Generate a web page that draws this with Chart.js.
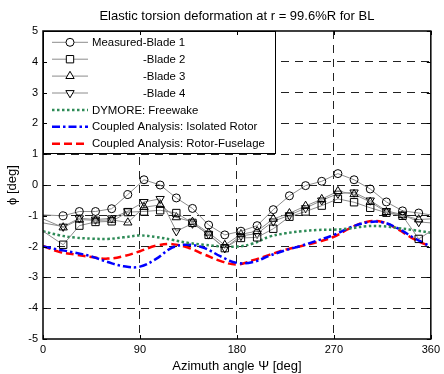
<!DOCTYPE html>
<html>
<head>
<meta charset="utf-8">
<script src="https://cdn.jsdelivr.net/npm/chart.js@4.4.1/dist/chart.umd.min.js"></script>
<style>
  html, body { margin: 0; padding: 0; background: #fff; }
  canvas { display: block; }
</style>
</head>
<body>
<canvas id="torsion" width="444" height="374"></canvas>
<script>
// measured azimuths (first/last entries are where the lines meet the plot edges)
const measuredAzimuth = [0, 18.75, 33.75, 48.75, 63.75, 78.75, 93.75, 108.75, 123.75, 138.75, 153.75, 168.75,
  183.75, 198.75, 213.75, 228.75, 243.75, 258.75, 273.75, 288.75, 303.75, 318.75, 333.75, 348.75, 360];
const blade1 = [-0.97, -1.0, -0.86, -0.86, -0.77, -0.31, 0.17, 0.0, -0.42, -0.76, -1.3, -1.62,
  -1.5, -1.32, -0.8, -0.35, -0.02, 0.12, 0.37, 0.17, -0.13, -0.55, -0.84, -0.91, -0.97];
const blade2 = [-1.5, -1.94, -1.32, -1.2, -1.18, -0.88, -0.86, -0.82, -0.91, -1.23, -1.62, -2.05,
  -1.72, -1.7, -1.42, -1.03, -0.86, -0.67, -0.45, -0.56, -0.74, -0.9, -1.0, -1.75, -1.5];
const blade3 = [-1.1, -1.38, -1.12, -1.15, -1.13, -1.22, -0.72, -0.65, -1.05, -1.2, -1.55, -1.95,
  -1.6, -1.5, -1.1, -0.92, -0.68, -0.46, -0.2, -0.3, -0.55, -0.88, -0.98, -1.12, -1.1];
const blade4 = [-1.23, -1.35, -1.08, -1.12, -1.08, -0.85, -0.55, -0.45, -1.5, -1.25, -1.6, -2.05,
  -1.65, -1.58, -1.18, -0.98, -0.75, -0.5, -0.28, -0.24, -0.5, -0.84, -0.96, -1.2, -1.23];

// analysis curves
const modelAzimuth = [0, 15, 30, 45, 60, 75, 90, 105, 120, 135, 150, 165, 180,
  195, 210, 225, 240, 255, 270, 285, 300, 315, 330, 345, 360];
const dymoreFreewake = [-1.5, -1.63, -1.71, -1.74, -1.75, -1.7, -1.64, -1.69, -1.78, -1.88, -1.94, -1.99, -2.0,
  -1.9, -1.68, -1.57, -1.5, -1.46, -1.45, -1.41, -1.34, -1.34, -1.4, -1.47, -1.55];
const isolatedRotor = [-2.0, -2.1, -2.2, -2.32, -2.5, -2.64, -2.65, -2.4, -2.03, -1.94, -2.05, -2.32, -2.53,
  -2.5, -2.3, -2.12, -1.97, -1.8, -1.62, -1.38, -1.22, -1.21, -1.42, -1.73, -2.0];
const rotorFuselage = [-1.98, -2.17, -2.26, -2.34, -2.39, -2.31, -2.15, -1.97, -1.92, -2.04, -2.26, -2.47, -2.58,
  -2.44, -2.27, -2.1, -1.98, -1.85, -1.68, -1.4, -1.2, -1.2, -1.45, -1.77, -2.0];

const xTicks = [0, 90, 180, 270, 360];
const yTicks = [-5, -4, -3, -2, -1, 0, 1, 2, 3, 4, 5];

const pts = (xs, ys) => xs.map((x, i) => ({ x: x, y: ys[i] }));
const FONT = '"Liberation Sans", Arial, Helvetica, sans-serif';

const measured = (label, ys, style, rot, r) => ({
  label: label,
  data: pts(measuredAzimuth, ys),
  borderColor: '#8c8c8c',
  borderWidth: 1,
  pointStyle: style,
  rotation: rot,
  markerSize: r,
  pointRadius: ctx => (ctx.dataIndex === 0 || ctx.dataIndex === measuredAzimuth.length - 1) ? 0 : r,
  pointBorderColor: '#000',
  pointBackgroundColor: 'rgba(0,0,0,0)',
  pointBorderWidth: 1,
  tension: 0
});

const analysis = (label, ys, color, dash) => ({
  label: label,
  data: pts(modelAzimuth, ys),
  borderColor: color,
  borderWidth: 2.5,
  borderDash: dash,
  pointRadius: 0,
  tension: 0.4
});

// legend box inside the axes, inner tick marks and the black axes frame
const frameAndLegend = {
  id: 'frameAndLegend',
  afterDatasetsDraw(chart) {
    const { ctx, chartArea: a, scales } = chart;
    ctx.save();
    const bx = a.left, by = a.top, bw = 232, bh = 122;
    ctx.fillStyle = '#fff';
    ctx.fillRect(bx, by, bw, bh);
    ctx.strokeStyle = '#000';
    ctx.lineWidth = 1;
    ctx.setLineDash([]);
    ctx.strokeRect(bx + 0.5, by + 0.5, bw, bh);
    ctx.font = '11.4px ' + FONT;
    ctx.textBaseline = 'middle';
    chart.data.datasets.forEach((ds, i) => {
      const y = by + 11.3 + i * 16.9;
      ctx.save();
      ctx.strokeStyle = ds.borderColor;
      ctx.lineWidth = ds.borderWidth;
      ctx.setLineDash(ds.borderDash || []);
      ctx.beginPath();
      ctx.moveTo(bx + 9, y);
      ctx.lineTo(bx + 45, y);
      ctx.stroke();
      if (ds.pointStyle) {
        ctx.setLineDash([]);
        ctx.strokeStyle = '#000';
        ctx.fillStyle = '#fff';
        Chart.helpers.drawPoint(ctx, {
          pointStyle: ds.pointStyle,
          rotation: ds.rotation || 0,
          radius: ds.markerSize,
          borderWidth: 1
        }, bx + 27, y);
      }
      ctx.restore();
      ctx.fillStyle = '#000';
      ctx.fillText(ds.label, (i >= 1 && i <= 3) ? bx + 100 : bx + 49, y + 0.5);
    });

    // inner ticks on all four sides
    ctx.strokeStyle = '#000';
    ctx.lineWidth = 1;
    ctx.beginPath();
    xTicks.forEach(v => {
      const x = Math.round(scales.x.getPixelForValue(v)) + 0.5;
      ctx.moveTo(x, a.bottom); ctx.lineTo(x, a.bottom - 4);
      ctx.moveTo(x, a.top); ctx.lineTo(x, a.top + 4);
    });
    yTicks.forEach(v => {
      const y = Math.round(scales.y.getPixelForValue(v)) + 0.5;
      ctx.moveTo(a.left, y); ctx.lineTo(a.left + 4, y);
      ctx.moveTo(a.right, y); ctx.lineTo(a.right - 4, y);
    });
    ctx.stroke();

    ctx.lineWidth = 1.5;
    ctx.strokeRect(a.left, a.top, a.right - a.left, a.bottom - a.top);
    ctx.restore();
  }
};

new Chart(document.getElementById('torsion'), {
  type: 'scatter',
  data: {
    datasets: [
      measured('Measured-Blade 1', blade1, 'circle', 0, 4),
      measured('-Blade 2', blade2, 'rect', 0, 5.2),
      measured('-Blade 3', blade3, 'triangle', 0, 4.8),
      measured('-Blade 4', blade4, 'triangle', 180, 4.8),
      analysis('DYMORE: Freewake', dymoreFreewake, '#2e8b57', [2.5, 2.5]),
      analysis('Coupled Analysis: Isolated Rotor', isolatedRotor, '#0000ff', [8, 3, 2.5, 3]),
      analysis('Coupled Analysis: Rotor-Fuselage', rotorFuselage, '#ff0000', [8, 4])
    ].map(d => Object.assign(d, { showLine: true }))
  },
  options: {
    responsive: false,
    animation: false,
    devicePixelRatio: 1,
    layout: { padding: { top: 0, right: 9, bottom: 0, left: 0 } },
    scales: {
      x: {
        type: 'linear',
        min: 0,
        max: 360,
        afterBuildTicks: s => { s.ticks = xTicks.map(v => ({ value: v })); },
        afterFit: s => { s.height = 35; },
        grid: {
          color: c => (c.tick.value === 0 || c.tick.value === 360) ? 'rgba(0,0,0,0)' : '#222',
          lineWidth: 1,
          drawTicks: false
        },
        border: { display: false, dash: [8, 6] },
        ticks: { color: '#000', font: { family: FONT, size: 11 }, padding: 4, maxRotation: 0 },
        title: { display: true, text: 'Azimuth angle \u03A8 [deg]', color: '#000',
          font: { family: FONT, size: 13 }, padding: { top: 0, bottom: 0 } }
      },
      y: {
        type: 'linear',
        min: -5,
        max: 5,
        afterBuildTicks: s => { s.ticks = yTicks.map(v => ({ value: v })); },
        afterFit: s => { s.width = 43; },
        grid: {
          color: c => (c.tick.value === -5 || c.tick.value === 5) ? 'rgba(0,0,0,0)' : '#222',
          lineWidth: 1,
          drawTicks: false
        },
        border: { display: false, dash: [8, 6] },
        ticks: { color: '#000', font: { family: FONT, size: 11 }, padding: 5 },
        title: { display: true, text: '\u03D5 [deg]', color: '#000',
          font: { family: FONT, size: 13 }, padding: { top: 5, bottom: 0 } }
      }
    },
    plugins: {
      legend: { display: false },
      tooltip: { enabled: false },
      title: {
        display: true,
        fullSize: false,
        text: 'Elastic torsion deformation at r = 99.6%R for BL',
        color: '#000',
        font: { family: FONT, size: 13, weight: 'normal' },
        padding: { top: 9, bottom: 6.4 }
      }
    }
  },
  plugins: [frameAndLegend]
});
</script>
</body>
</html>
